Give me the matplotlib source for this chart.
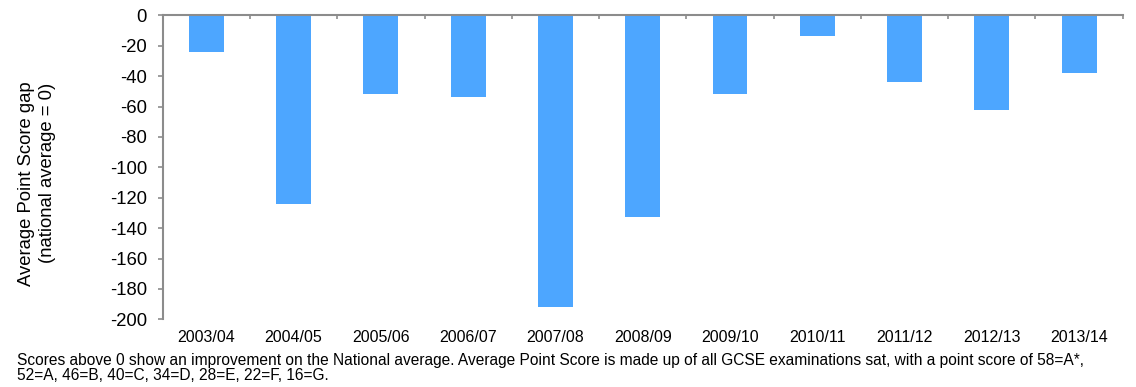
import matplotlib
matplotlib.use("Agg")
import matplotlib.pyplot as plt
import numpy as np

plt.rcParams['font.family'] = ['Liberation Sans', 'DejaVu Sans']

years = ["2003/04", "2004/05", "2005/06", "2006/07", "2007/08", "2008/09",
         "2009/10", "2010/11", "2011/12", "2012/13", "2013/14"]
gap = [-24, -124, -52, -54, -192, -133, -52, -13.5, -44, -62.5, -38]
y_ticks = list(range(0, -201, -20))

bar_color = "#4DA6FF"
axis_color = "#8C8C8C"

W, H = 1136, 387
fig = plt.figure(figsize=(W / 100, H / 100), dpi=100)
ax = fig.add_axes([162.7 / W, 1 - 319.3 / H, (1122.7 - 162.7) / W, (319.3 - 15.3) / H])

x = np.arange(len(years))
ax.bar(x, gap, width=0.4, color=bar_color, zorder=2)

ax.set_ylim(-200, 0)
ax.set_xlim(-0.5, len(years) - 0.5)

for side in ("right", "bottom"):
    ax.spines[side].set_visible(False)
for side in ("left", "top"):
    ax.spines[side].set_color(axis_color)
    ax.spines[side].set_linewidth(1.5)

ax.set_yticks(y_ticks)
ax.set_yticklabels([str(v) for v in y_ticks], fontsize=13.3)
ax.tick_params(axis="y", direction="out", length=3.8, color=axis_color, width=1.2, pad=7.5)

ax.set_xticks(x)
ax.set_xticklabels(years, fontsize=11.5)
ax.tick_params(axis="x", which="major", length=0, pad=7.5)
ax.set_xticks(np.arange(-0.5, len(years)), minor=True)
ax.tick_params(axis="x", which="minor", top=True, bottom=False, direction="in",
               length=3, color=axis_color, width=1.2)

fig.text(27 / W, 1 - 183.5 / H, "Average Point Score gap", rotation=90,
         ha="center", va="center", fontsize=13.3)
fig.text(48 / W, 1 - 172.5 / H, "(national average = 0)", rotation=90,
         ha="center", va="center", fontsize=13.3)

fig.text(17 / W, 1 - 360 / H,
         "Scores above 0 show an improvement on the National average. Average Point Score is made up of all GCSE examinations sat, with a point score of 58=A*,",
         ha="left", va="center", fontsize=11.2)
fig.text(17 / W, 1 - 376 / H,
         "52=A, 46=B, 40=C, 34=D, 28=E, 22=F, 16=G.",
         ha="left", va="center", fontsize=11.2)

fig.savefig("out.png", dpi=100)
